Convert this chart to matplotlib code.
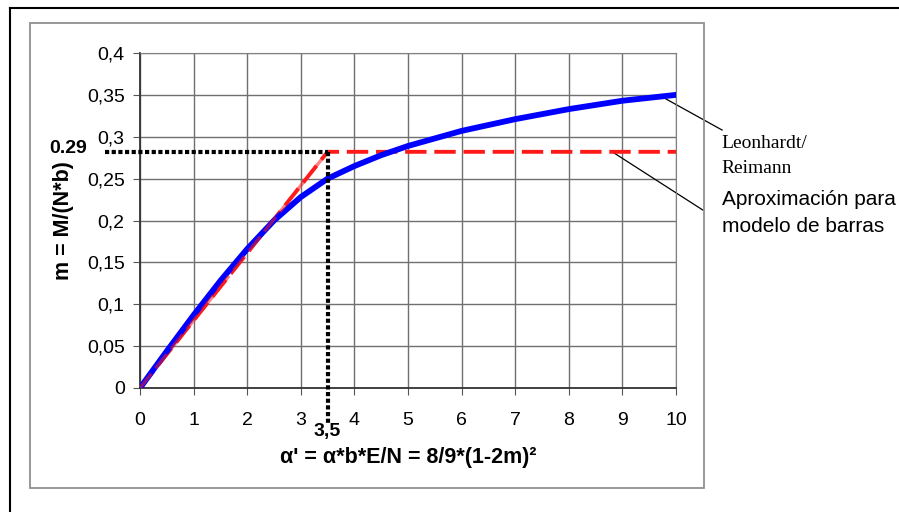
import matplotlib
matplotlib.use("Agg")
import matplotlib.pyplot as plt
from matplotlib.lines import Line2D
from matplotlib.patches import Rectangle
from matplotlib.ticker import FuncFormatter

# Leonhardt/Reimann curve
alpha = [0, 0.5, 1, 1.5, 2, 2.5, 3, 3.5, 4, 4.5, 5, 6, 7, 8, 9, 10]
m_leon = [0, 0.044, 0.087, 0.128, 0.166, 0.200, 0.228, 0.250, 0.265,
          0.278, 0.289, 0.307, 0.321, 0.333, 0.343, 0.350]

# strut model approximation
alpha_aprox = [0, 3.5, 10]
m_aprox = [0, 0.282, 0.282]

x_ref = 3.5
m_ref = 0.282

plt.rcParams['font.family'] = ['Liberation Sans', 'DejaVu Sans']

fig = plt.figure(figsize=(8.99, 5.12), dpi=100)
W, H = 899, 512

def fx(px):
    return px / W

def fy(py):
    return 1 - py / H

# frames around the chart
fig.add_artist(Line2D([fx(10), 1.0], [fy(8), fy(8)], color='black', lw=1.5))
fig.add_artist(Line2D([fx(10), fx(10)], [fy(8), 0.0], color='black', lw=1.5))
fig.add_artist(Rectangle((fx(30), fy(488)), fx(704) - fx(30), fy(23) - fy(488),
                         fill=False, edgecolor='#909090', lw=1.3))

ax = fig.add_axes([fx(140), fy(388), fx(676) - fx(140), fy(53) - fy(388)])

ax.grid(True, color='#707070', lw=1.0)
ax.set_axisbelow(True)

ax.plot(alpha_aprox, m_aprox, color='#ff1a1a', lw=2.8, dashes=(5.5, 2), zorder=3)
ax.plot(alpha, m_leon, color='#0000ff', lw=4.2, solid_capstyle='round', zorder=4)
ax.plot(alpha_aprox[:2], m_aprox[:2], color='#ff1a1a', lw=2.4, dashes=(5.5, 2),
        zorder=5, alpha=0.55)

# dotted reference lines
ax.plot([-0.65, x_ref], [m_ref, m_ref], color='black', lw=3, ls=(0, (1, 0.6)),
        clip_on=False, zorder=6)
ax.plot([x_ref, x_ref], [m_ref, -0.044], color='black', lw=3, ls=(0, (1, 0.6)),
        clip_on=False, zorder=6)

ax.set_xlim(0, 10)
ax.set_ylim(0, 0.4)
ax.set_xticks(range(0, 11))
ax.set_yticks([0, 0.05, 0.1, 0.15, 0.2, 0.25, 0.3, 0.35, 0.4])
ax.yaxis.set_major_formatter(FuncFormatter(lambda v, p: ('%g' % v).replace('.', ',')))
ax.tick_params(labelsize=14, length=5, color='#555555')
ax.tick_params(axis='x', pad=12)
ax.tick_params(axis='y', pad=6)

for s in ['top', 'right']:
    ax.spines[s].set_color('#808080')
for s in ['left', 'bottom']:
    ax.spines[s].set_color('#333333')
    ax.spines[s].set_linewidth(1.3)

ax.set_xlabel("α' = α*b*E/N = 8/9*(1-2m)²", fontsize=15.5, fontweight='bold', va='center')
ax.xaxis.set_label_coords(0.5, (388 - 457) / 335)
ax.set_ylabel("m = M/(N*b)", fontsize=15.5, fontweight='bold', va='center')
ax.yaxis.set_label_coords((63 - 140) / 536, 0.5)

ax.text(-0.99, 0.2865, "0.29", fontsize=14, fontweight='bold', ha='right', va='center')
ax.text(x_ref, -0.052, "3,5", fontsize=14, fontweight='bold', ha='center', va='center',
        zorder=7)

# callouts
ax.plot([9.76, 10.86], [0.347, 0.308], color='black', lw=0.9, clip_on=False)
ax.plot([8.81, 10.5], [0.282, 0.2125], color='black', lw=0.9, clip_on=False)

serif = ['Liberation Serif', 'DejaVu Serif']
fig.text(fx(721), fy(148), "Leonhardt/", fontsize=14, family=serif, va='baseline')
fig.text(fx(721), fy(173), "Reimann", fontsize=14, family=serif, va='baseline')
fig.text(fx(722), fy(205), "Aproximación para", fontsize=15, va='baseline')
fig.text(fx(722), fy(232), "modelo de barras", fontsize=15, va='baseline')

fig.savefig("out.png", dpi=100)
